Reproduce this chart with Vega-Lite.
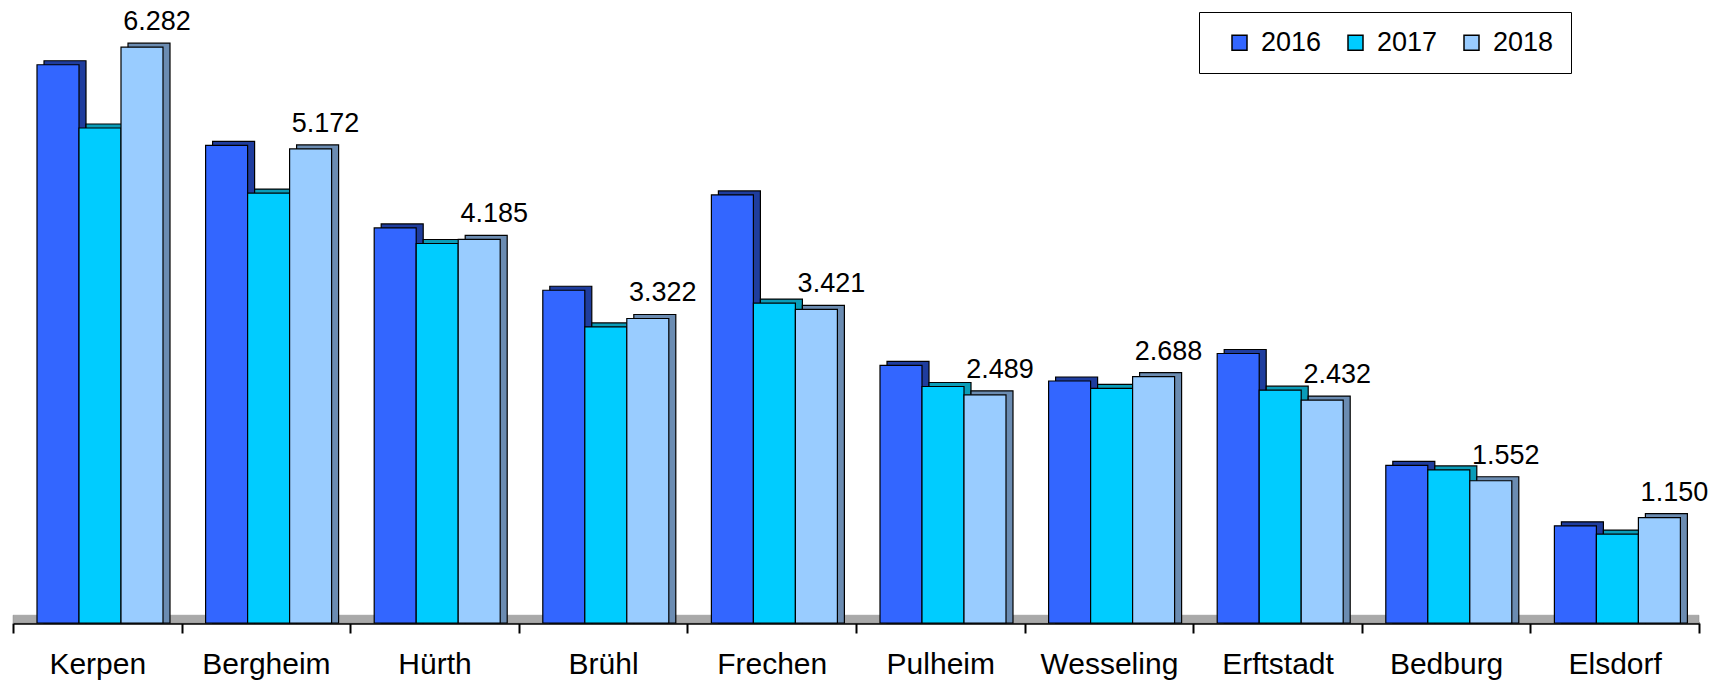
{
  "$schema": "https://vega.github.io/schema/vega-lite/v6.json",
  "width": 1686,
  "height": 605,
  "autosize": {"type": "none"},
  "padding": {"left": 13, "top": 18, "right": 23, "bottom": 59},
  "config": {
    "view": {"stroke": null},
    "font": "Liberation Sans",
    "locale": {"number": {"decimal": ",", "thousands": ".", "grouping": [3], "currency": ["", " €"]}}
  },
  "datasets": {
    "einw": [
      {"city": "Kerpen", "year": "2016", "value": 6090},
      {"city": "Kerpen", "year": "2017", "value": 5400},
      {"city": "Kerpen", "year": "2018", "value": 6282},
      {"city": "Bergheim", "year": "2016", "value": 5210},
      {"city": "Bergheim", "year": "2017", "value": 4690},
      {"city": "Bergheim", "year": "2018", "value": 5172},
      {"city": "Hürth", "year": "2016", "value": 4310},
      {"city": "Hürth", "year": "2017", "value": 4140},
      {"city": "Hürth", "year": "2018", "value": 4185},
      {"city": "Brühl", "year": "2016", "value": 3630},
      {"city": "Brühl", "year": "2017", "value": 3230},
      {"city": "Brühl", "year": "2018", "value": 3322},
      {"city": "Frechen", "year": "2016", "value": 4670},
      {"city": "Frechen", "year": "2017", "value": 3490},
      {"city": "Frechen", "year": "2018", "value": 3421},
      {"city": "Pulheim", "year": "2016", "value": 2810},
      {"city": "Pulheim", "year": "2017", "value": 2580},
      {"city": "Pulheim", "year": "2018", "value": 2489},
      {"city": "Wesseling", "year": "2016", "value": 2640},
      {"city": "Wesseling", "year": "2017", "value": 2560},
      {"city": "Wesseling", "year": "2018", "value": 2688},
      {"city": "Erftstadt", "year": "2016", "value": 2940},
      {"city": "Erftstadt", "year": "2017", "value": 2540},
      {"city": "Erftstadt", "year": "2018", "value": 2432},
      {"city": "Bedburg", "year": "2016", "value": 1720},
      {"city": "Bedburg", "year": "2017", "value": 1670},
      {"city": "Bedburg", "year": "2018", "value": 1552},
      {"city": "Elsdorf", "year": "2016", "value": 1060},
      {"city": "Elsdorf", "year": "2017", "value": 970},
      {"city": "Elsdorf", "year": "2018", "value": 1150}
    ],
    "boden": [{"name": "Boden"}]
  },
  "resolve": {"scale": {"color": "independent", "xOffset": "independent"}},
  "layer": [
    {
      "data": {"name": "boden"},
      "mark": {"type": "rect", "fill": "#a9a9a9", "stroke": "#8a8a8a", "strokeWidth": 0.5},
      "encoding": {
        "y": {"datum": 0, "type": "quantitative", "scale": {"domain": [0, 6600], "nice": false}, "axis": null},
        "y2": {"datum": 85}
      }
    },
    {
      "data": {"name": "einw"},
      "mark": {"type": "bar", "yOffset": -4, "y2Offset": -4, "stroke": "black", "strokeWidth": 1.2},
      "encoding": {
        "x": {
          "field": "city", "type": "nominal",
          "sort": ["Kerpen", "Bergheim", "Hürth", "Brühl", "Frechen", "Pulheim", "Wesseling", "Erftstadt", "Bedburg", "Elsdorf"],
          "scale": {"paddingInner": 0, "paddingOuter": 0},
          "axis": {
            "title": null, "labelAngle": 0, "labelFontSize": 30, "labelColor": "black", "labelFont": "Liberation Sans",
            "labelPadding": 16, "domainColor": "black", "domainWidth": 2.5, "tickColor": "black", "tickWidth": 2,
            "tickSize": 10, "tickBand": "extent", "grid": false
          }
        },
        "xOffset": {"field": "year", "type": "nominal", "scale": {"domain": ["2016", "2017", "2018"], "paddingInner": 0, "paddingOuter": 0, "range": [31, 157]}},
        "y": {"field": "value", "type": "quantitative", "stack": null},
        "color": {"field": "year", "type": "nominal", "scale": {"domain": ["2016", "2017", "2018"], "range": ["#1f3d9e", "#0a9cb8", "#6b8cb2"]}, "legend": null}
      }
    },
    {
      "data": {"name": "einw"},
      "mark": {"type": "bar", "stroke": "black", "strokeWidth": 1.2},
      "encoding": {
        "x": {"field": "city", "type": "nominal", "sort": ["Kerpen", "Bergheim", "Hürth", "Brühl", "Frechen", "Pulheim", "Wesseling", "Erftstadt", "Bedburg", "Elsdorf"]},
        "xOffset": {"field": "year", "type": "nominal", "scale": {"domain": ["2016", "2017", "2018"], "paddingInner": 0, "paddingOuter": 0, "range": [24, 150]}},
        "y": {"field": "value", "type": "quantitative", "stack": null},
        "color": {
          "field": "year", "type": "nominal",
          "scale": {"domain": ["2016", "2017", "2018"], "range": ["#3366ff", "#00ccff", "#99ccff"]},
          "legend": {
            "title": null, "orient": "none", "direction": "horizontal", "legendX": 1186, "legendY": -6,
            "padding": 17, "strokeColor": "black", "fillColor": "white",
            "symbolType": "square", "symbolSize": 225, "symbolStrokeColor": "black", "symbolStrokeWidth": 1.5,
            "symbolOffset": 10,
            "labelFontSize": 27, "labelFont": "Liberation Sans", "labelColor": "black", "labelOffset": 8,
            "columnPadding": 10
          }
        }
      }
    },
    {
      "data": {"name": "einw"},
      "transform": [{"filter": "datum.year === '2018'"}],
      "mark": {"type": "text", "dx": -6, "dy": -17, "baseline": "alphabetic", "align": "center", "fontSize": 27, "color": "black", "font": "Liberation Sans"},
      "encoding": {
        "x": {"field": "city", "type": "nominal", "sort": ["Kerpen", "Bergheim", "Hürth", "Brühl", "Frechen", "Pulheim", "Wesseling", "Erftstadt", "Bedburg", "Elsdorf"]},
        "xOffset": {"field": "year", "type": "nominal", "scale": {"domain": ["2016", "2017", "2018"], "paddingInner": 0, "paddingOuter": 0, "range": [24, 150]}},
        "y": {"field": "value", "type": "quantitative"},
        "text": {"field": "value", "type": "quantitative", "format": ",d"}
      }
    }
  ]
}
